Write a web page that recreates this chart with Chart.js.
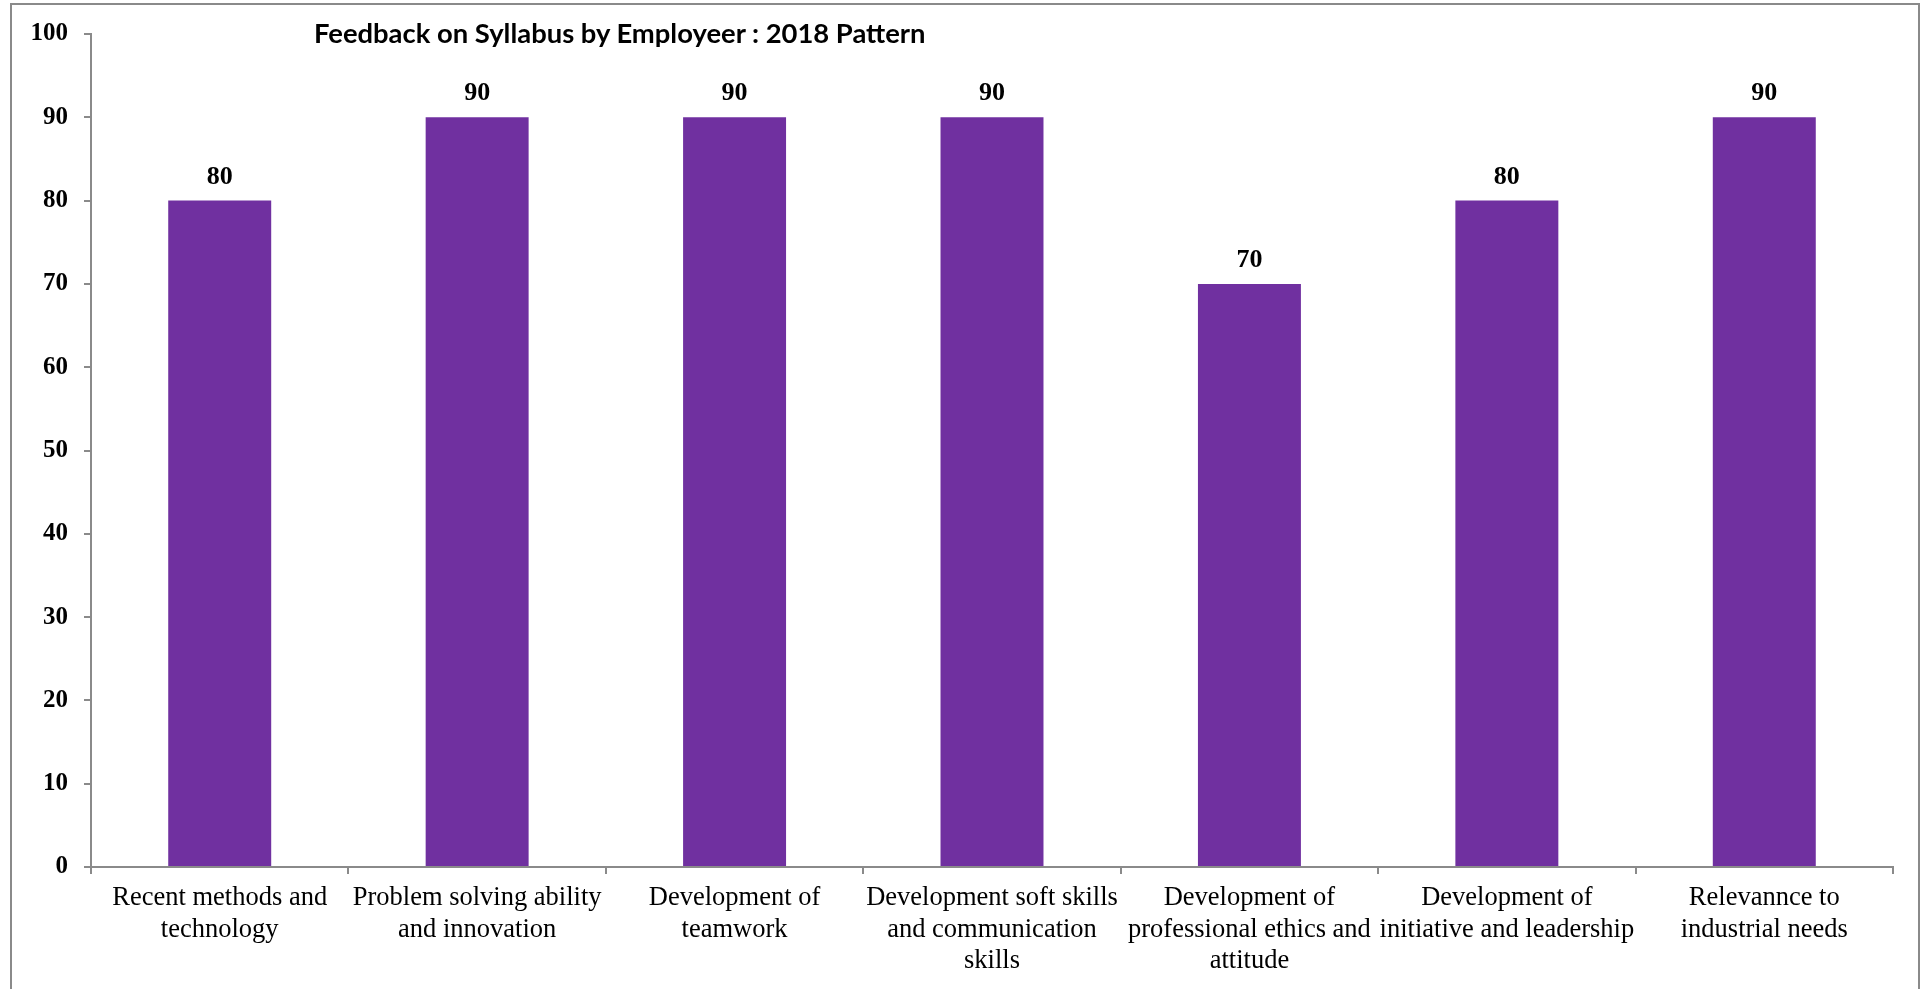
<!DOCTYPE html>
<html>
<head>
<meta charset="utf-8">
<script src="https://cdn.jsdelivr.net/npm/chart.js@4"></script>
<style>
  html, body { margin: 0; padding: 0; background: #fff; overflow: hidden; }
  #wrap { position: relative; width: 1927px; height: 989px; }
  #frame { position: absolute; left: 10px; top: 3px; width: 1910px; height: 1000px;
           border: 2px solid #8a8a8a; box-sizing: border-box; }
  #title { position: absolute; left: 314px; top: 16px; font-family: Lato, "Open Sans", sans-serif;
           font-weight: 700; font-size: 27.4px; color: #000; white-space: nowrap; }
  canvas { position: absolute; left: 0; top: 0; }
</style>
</head>
<body>
<div id="wrap">
  <div id="frame"></div>
  <canvas id="chart" width="1927" height="989"></canvas>
  <div id="title">Feedback on Syllabus by Employeer : 2018 Pattern</div>
</div>
<script>
// categories (wrapped the way the picture wraps them)
var categories = [
    ['Recent methods and', 'technology'],
    ['Problem solving ability', 'and innovation'],
    ['Development of', 'teamwork'],
    ['Development soft skills', 'and communication', 'skills'],
    ['Development of', 'professional ethics and', 'attitude'],
    ['Development of', 'initiative and leadership'],
    ['Relevannce to', 'industrial needs']
];
var scores = [80, 90, 90, 90, 70, 80, 90];
var yTicks = [0, 10, 20, 30, 40, 50, 60, 70, 80, 90, 100];

var axisGrey = '#8a8a8a';

// value above each bar
var barValues = {
    id: 'barValues',
    afterDatasetsDraw: function(chart) {
        var ctx = chart.ctx;
        var meta = chart.getDatasetMeta(0);
        ctx.save();
        ctx.font = 'bold 26px "Liberation Serif", "Times New Roman", serif';
        ctx.fillStyle = '#000';
        ctx.textAlign = 'center';
        ctx.textBaseline = 'alphabetic';
        meta.data.forEach(function(bar, i) {
            ctx.fillText(scores[i], bar.x, bar.y - 17);
        });
        ctx.restore();
    }
};

var ctx = document.getElementById('chart');
var myChart = new Chart(ctx, {
    type: 'bar',
    data: {
        labels: categories,
        datasets: [{
            data: scores,
            backgroundColor: '#7030A0',
            borderWidth: 0,
            barPercentage: 0.4,
            categoryPercentage: 1.0
        }]
    },
    options: {
        responsive: false,
        animation: false,
        layout: { padding: { left: 0, right: 34, top: 34, bottom: 0 } },
        plugins: {
            legend: { display: false },
            tooltip: { enabled: false }
        },
        scales: {
            x: {
                offset: true,
                grid: {
                    offset: true,
                    drawOnChartArea: false,
                    drawTicks: true,
                    tickLength: 7,
                    color: axisGrey,
                    lineWidth: 2
                },
                border: { color: axisGrey, width: 2 },
                ticks: {
                    autoSkip: false,
                    maxRotation: 0,
                    minRotation: 0,
                    padding: 8,
                    color: '#000',
                    font: { family: '"Liberation Serif", "Times New Roman", serif', size: 26.5, lineHeight: 1.2 }
                },
                afterFit: function(scale) { scale.height = 122; }
            },
            y: {
                min: 0,
                max: 100,
                afterBuildTicks: function(scale) {
                    scale.ticks = yTicks.map(function(v) { return { value: v }; });
                },
                grid: {
                    drawOnChartArea: false,
                    drawTicks: true,
                    tickLength: 7,
                    color: axisGrey,
                    lineWidth: 2
                },
                border: { color: axisGrey, width: 2 },
                ticks: {
                    padding: 16,
                    color: '#000',
                    font: { family: '"Liberation Serif", "Times New Roman", serif', size: 25, weight: 'bold' }
                },
                afterFit: function(scale) { scale.width = 91; }
            }
        }
    },
    plugins: [barValues]
});
</script>
</body>
</html>
